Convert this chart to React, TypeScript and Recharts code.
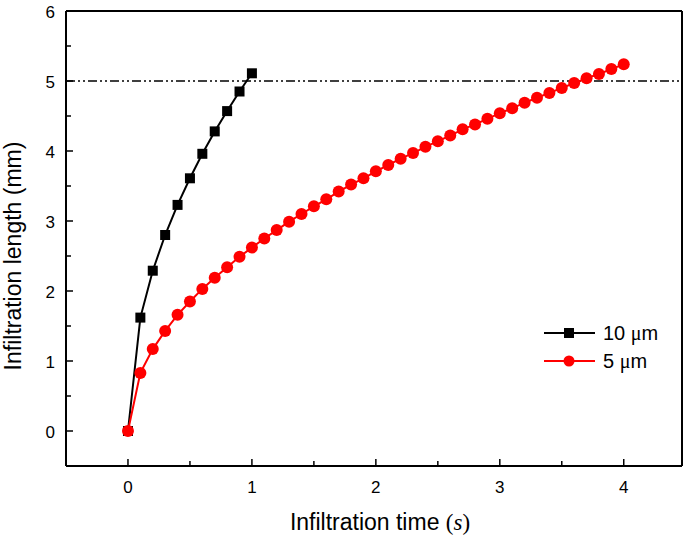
import { LineChart, Line, XAxis, YAxis, ReferenceLine } from 'recharts';

// 10 um pore: time (s) and infiltration length (mm)
const time10 = [0, 0.1, 0.2, 0.3, 0.4, 0.5, 0.6, 0.7, 0.8, 0.9, 1.0];
const length10 = [0, 1.62, 2.29, 2.8, 3.23, 3.61, 3.96, 4.28, 4.57, 4.85, 5.11];

// 5 um pore
const time5 = [
  0, 0.1, 0.2, 0.3, 0.4, 0.5, 0.6, 0.7, 0.8, 0.9, 1.0, 1.1, 1.2, 1.3, 1.4, 1.5, 1.6, 1.7, 1.8, 1.9, 2.0,
  2.1, 2.2, 2.3, 2.4, 2.5, 2.6, 2.7, 2.8, 2.9, 3.0, 3.1, 3.2, 3.3, 3.4, 3.5, 3.6, 3.7, 3.8, 3.9, 4.0,
];
const length5 = [
  0, 0.83, 1.17, 1.43, 1.66, 1.85, 2.03, 2.19, 2.34, 2.49, 2.62, 2.75, 2.87, 2.99, 3.1, 3.21, 3.31, 3.42,
  3.52, 3.61, 3.71, 3.8, 3.89, 3.97, 4.06, 4.14, 4.22, 4.31, 4.38, 4.46, 4.54, 4.61, 4.69, 4.76, 4.83,
  4.9, 4.97, 5.04, 5.1, 5.17, 5.24,
];

const xTicks = [-0.5, 0, 0.5, 1, 1.5, 2, 2.5, 3, 3.5, 4];
const yTicks = [-0.5, 0, 0.5, 1, 1.5, 2, 2.5, 3, 3.5, 4, 4.5, 5, 5.5, 6];
const xDomain = [-0.5, 4.47];
const yDomain = [-0.5, 6];
const targetLength = 5;

const series10 = time10.map((t, i) => ({ t, len: length10[i] }));
const series5 = time5.map((t, i) => ({ t, len: length5[i] }));

const FONT = '"Liberation Sans", Arial, sans-serif';
const SERIF = '"Liberation Serif", "Times New Roman", serif';

function XTick(props: any) {
  const { x, y, payload } = props;
  const major = Number.isInteger(payload.value);
  if (payload.value === -0.5) return null;
  return (
    <g>
      <line x1={x} x2={x} y1={y} y2={y - (major ? 7 : 5)} stroke="#000" strokeWidth={1.5} />
      {major && (
        <text x={x} y={y + 27} textAnchor="middle" fontSize={17} fontFamily={FONT} fill="#000">
          {payload.value}
        </text>
      )}
    </g>
  );
}

function YTick(props: any) {
  const { x, y, payload } = props;
  const major = Number.isInteger(payload.value);
  if (payload.value === -0.5) return null;
  return (
    <g>
      <line x1={x} x2={x + (major ? 7 : 5)} y1={y} y2={y} stroke="#000" strokeWidth={1.5} />
      {major && (
        <text x={x - 11} y={y + 7} textAnchor="end" fontSize={17} fontFamily={FONT} fill="#000">
          {payload.value}
        </text>
      )}
    </g>
  );
}

function LegendBox() {
  return (
    <svg width={140} height={60} style={{ position: 'absolute', left: 544, top: 318 }}>
      <line x1={0} x2={51} y1={15} y2={15} stroke="#000" strokeWidth={2} />
      <rect x={20} y={10} width={10} height={10} fill="#000" />
      <text x={59} y={22} fontSize={20} fontFamily={FONT} fill="#000">
        10 <tspan fontFamily={SERIF}>μ</tspan>m
      </text>
      <line x1={0} x2={51} y1={43} y2={43} stroke="#f00" strokeWidth={2} />
      <circle cx={25} cy={43} r={5.5} fill="#f00" />
      <text x={59} y={50} fontSize={20} fontFamily={FONT} fill="#000">
        5 <tspan fontFamily={SERIF}>μ</tspan>m
      </text>
    </svg>
  );
}

export default function App() {
  return (
    <div style={{ position: 'relative', width: 685, height: 535 }}>
      <style>{'html, body { margin: 0; padding: 0; overflow: hidden; }'}</style>
      <LineChart
        width={685}
        height={535}
        margin={{ top: 11, right: 3, bottom: 0, left: 0 }}
        style={{ overflow: 'visible' }}
      >
        <XAxis
          dataKey="t"
          type="number"
          domain={xDomain}
          ticks={xTicks}
          interval={0}
          allowDataOverflow
          height={69}
          tickSize={0}
          tickMargin={0}
          tickLine={false}
          axisLine={{ stroke: '#000', strokeWidth: 2 }}
          tick={<XTick />}
          label={{
            content: () => (
              <text x={380} y={530} textAnchor="middle" fontSize={23} fontFamily={FONT} fill="#000">
                Infiltration time <tspan fontFamily={SERIF}>(</tspan>
                <tspan fontFamily={SERIF} fontStyle="italic">s</tspan>
                <tspan fontFamily={SERIF}>)</tspan>
              </text>
            ),
          }}
        />
        <YAxis
          type="number"
          domain={yDomain}
          ticks={yTicks}
          interval={0}
          allowDataOverflow
          width={66}
          tickSize={0}
          tickMargin={0}
          tickLine={false}
          axisLine={{ stroke: '#000', strokeWidth: 2 }}
          tick={<YTick />}
          label={{
            content: () => (
              <text
                x={21}
                y={256}
                transform="rotate(-90 21 256)"
                textAnchor="middle"
                fontSize={23}
                fontFamily={FONT}
                fill="#000"
              >
                Infiltration length (mm)
              </text>
            ),
          }}
        />
        {/* frame: top and right borders */}
        <ReferenceLine y={yDomain[1]} stroke="#000" strokeWidth={2} />
        <ReferenceLine x={xDomain[1]} stroke="#000" strokeWidth={2} />
        <ReferenceLine y={targetLength} stroke="#000" strokeWidth={1.5} strokeDasharray="9 3 2 3 2 3" />
        <Line
          data={series10}
          dataKey="len"
          name="10 μm"
          type="linear"
          stroke="#000"
          strokeWidth={2}
          dot={(p: any) => <rect key={p.index} x={p.cx - 5} y={p.cy - 5} width={10} height={10} fill="#000" />}
          isAnimationActive={false}
        />
        <Line
          data={series5}
          dataKey="len"
          name="5 μm"
          type="linear"
          stroke="#f00"
          strokeWidth={2}
          dot={{ r: 6, fill: '#f00', stroke: '#f00', strokeWidth: 0 }}
          isAnimationActive={false}
        />
      </LineChart>
      <LegendBox />
    </div>
  );
}
